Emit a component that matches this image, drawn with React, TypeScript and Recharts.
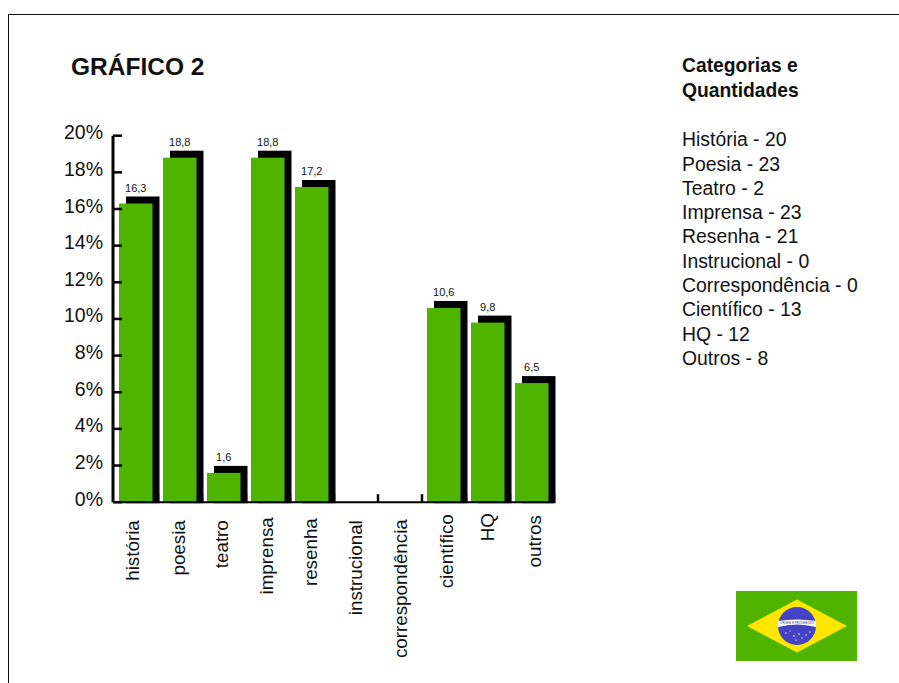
import React from 'react';
import { BarChart, Bar, XAxis, YAxis, LabelList } from 'recharts';

const categories = ['história', 'poesia', 'teatro', 'imprensa', 'resenha', 'instrucional', 'correspondência', 'científico', 'HQ', 'outros'];
const percentages = [16.3, 18.8, 1.6, 18.8, 17.2, 0, 0, 10.6, 9.8, 6.5];
const listNames = ['História', 'Poesia', 'Teatro', 'Imprensa', 'Resenha', 'Instrucional', 'Correspondência', 'Científico', 'HQ', 'Outros'];
const listCounts = [20, 23, 2, 23, 21, 0, 0, 13, 12, 8];
const percentTicks = [0, 2, 4, 6, 8, 10, 12, 14, 16, 18, 20];

const data = categories.map((name, i) => ({ name, value: percentages[i] }));

const WIDTH = 899;
const HEIGHT = 683;
const TOP = 135.7;
const BOTTOM = 180.8;
const FONT = '"Liberation Sans", Arial, sans-serif';
const GREEN = '#4fb400';
const SHADOW = 7;

const axisY = HEIGHT - BOTTOM;

// category labels are hand placed: uneven gaps below the axis, small sideways shifts
const labelGaps = [18, 18, 18, 15, 16, 18, 17, 12, 11, 13];
const labelShifts = [-3, -1, -2, -1, -1, 0, 1, 3, 0, 3];

// green column with a hard black drop shadow up and to the right
const ShadowBar = (props: any) => {
  const { x, y, width, height } = props;
  if (!height) return null;
  return (
    <g>
      <rect x={x + SHADOW} y={y - SHADOW} width={width} height={height + SHADOW + 1} fill="#000" />
      <rect x={x} y={y} width={width} height={height} fill={GREEN} />
    </g>
  );
};

const PercentTick = (props: any) => {
  const { y, payload } = props;
  return (
    <g>
      <line x1={113} x2={122} y1={y} y2={y} stroke="#000" strokeWidth={2.5} />
      <text x={103} y={y + 3.5} textAnchor="end" fontFamily={FONT} fontSize={19.5} fill="#111">
        {payload.value}%
      </text>
    </g>
  );
};

const CategoryTick = (props: any) => {
  const { x, payload, index } = props;
  const labelX = x + 6 + labelShifts[index];
  const labelY = axisY + labelGaps[index];
  return (
    <g>
      <line x1={x + 22} x2={x + 22} y1={axisY - 8} y2={axisY} stroke="#000" strokeWidth={2.5} />
      <text
        x={labelX}
        y={labelY}
        textAnchor="end"
        fontFamily={FONT}
        fontSize={18.8}
        fill="#111"
        transform={`rotate(-90 ${labelX} ${labelY})`}
      >
        {payload.value}
      </text>
    </g>
  );
};

const Flag = () => (
  <svg width={121} height={70} style={{ position: 'absolute', left: 736, top: 590.5 }}>
    <rect width={121} height={70} fill={GREEN} />
    <polygon points="11,35 61,8.5 111,35 61,61.5" fill="#ffe600" />
    <circle cx={61} cy={35} r={19} fill="#4343c4" />
    <path d="M42,30 Q61,27 80,30 L80,36 Q61,31 42,36 Z" fill="#fff" />
    <text x={61} y={32.8} textAnchor="middle" fontFamily={FONT} fontSize={3} fill="#3a3a8c">
      ORDEM E PROGRESSO
    </text>
    <g fill="#fff">
      <circle cx={50} cy={42} r={0.7} />
      <circle cx={58} cy={45} r={0.8} />
      <circle cx={63} cy={43} r={0.8} />
      <circle cx={66} cy={47} r={0.7} />
      <circle cx={70} cy={44} r={0.7} />
      <circle cx={60} cy={49} r={0.7} />
      <circle cx={74} cy={41} r={0.7} />
      <circle cx={54} cy={40} r={0.6} />
    </g>
  </svg>
);

export default function App() {
  return (
    <div style={{ position: 'absolute', left: 0, top: 0, width: WIDTH, height: HEIGHT, overflow: 'hidden', background: '#fff', fontFamily: FONT, color: '#111' }}>
      <div style={{ position: 'absolute', left: 8, top: 14, right: 0, bottom: 0, borderLeft: '1px solid #111', borderTop: '1px solid #111' }} />
      <div style={{ position: 'absolute', left: 71, top: 53, fontSize: 24.5, fontWeight: 700, whiteSpace: 'nowrap' }}>GRÁFICO 2</div>
      <div style={{ position: 'absolute', left: 682, top: 53, fontSize: 19.3, fontWeight: 700, lineHeight: '25px' }}>
        Categorias e<br />Quantidades
      </div>
      <div style={{ position: 'absolute', left: 682, top: 127.3, fontSize: 19.4, lineHeight: '24.3px', whiteSpace: 'nowrap' }}>
        {listNames.map((name, i) => (
          <div key={name}>{name} - {listCounts[i]}</div>
        ))}
      </div>
      <div style={{ position: 'absolute', left: 0, top: 0 }}>
        <BarChart width={WIDTH} height={HEIGHT} data={data} barSize={33.5} margin={{ top: TOP, right: 345, bottom: 0, left: 0 }}>
          <XAxis
            dataKey="name"
            interval={0}
            padding={{ left: 1, right: 0 }}
            height={BOTTOM}
            axisLine={{ stroke: '#000', strokeWidth: 2 }}
            tickLine={false}
            tick={<CategoryTick />}
          />
          <YAxis
            width={113}
            domain={[0, 20]}
            ticks={percentTicks}
            interval={0}
            axisLine={{ stroke: '#000', strokeWidth: 3 }}
            tickLine={false}
            tick={<PercentTick />}
          />
          <Bar dataKey="value" shape={<ShadowBar />} isAnimationActive={false}>
            <LabelList
              dataKey="value"
              position="top"
              offset={12}
              fontFamily={FONT}
              fontSize={11}
              fill="#111"
              formatter={(v: any) => (v ? String(v).replace('.', ',') : '')}
            />
          </Bar>
        </BarChart>
      </div>
      <Flag />
    </div>
  );
}
